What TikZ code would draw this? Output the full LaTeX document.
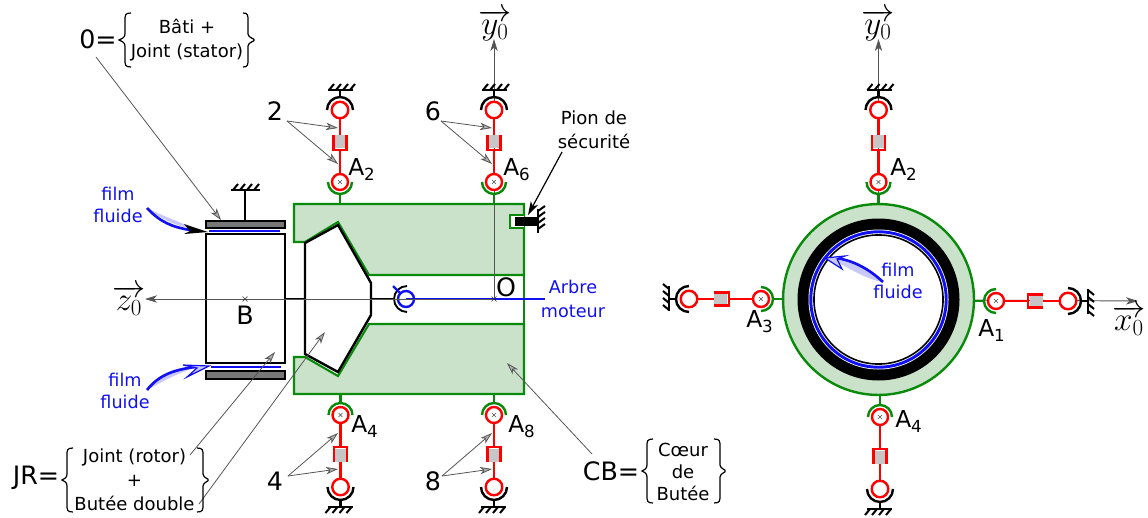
\documentclass[tikz,border=0pt]{standalone}
\usepackage{fontspec}
\setmainfont{DejaVu Sans}
\usetikzlibrary{arrows.meta,calc}
\definecolor{gfill}{HTML}{C9E2C9}
\definecolor{gline}{HTML}{0A8A0A}
\definecolor{bfilm}{HTML}{1010F0}
\definecolor{lfilm}{HTML}{C8C8FA}
\definecolor{axisc}{HTML}{555555}
\definecolor{plate}{HTML}{777777}
\tikzset{
  x=0.75pt,y=-0.75pt,
  redl/.style={draw=red,line width=1.8pt},
  greenl/.style={draw=gline,line width=1.8pt},
  blackl/.style={draw=black,line width=1.8pt},
  body/.style={draw=gline,fill=gfill,line width=1.6pt,line join=miter},
  rotor/.style={draw=black,fill=white,line width=1.8pt,line join=miter},
  axisl/.style={draw=axisc,line width=0.7pt,-{Stealth[length=9pt,width=5.5pt,inset=2.5pt]}},
  pointer/.style={draw=axisc,line width=0.6pt,-{Stealth[length=9pt,width=5.5pt,inset=2.5pt,fill=gray!60]}},
  big/.style={font=\fontsize{19}{22}\selectfont,inner sep=0pt,text=black},
  alabel/.style={font=\fontsize{17.5}{20}\selectfont,inner sep=0pt,text=black,anchor=base west},
  small/.style={font=\fontsize{13.5}{18}\selectfont,inner sep=0pt,align=center,text=black},
  bluet/.style={font=\fontsize{13.2}{17}\selectfont,inner sep=0pt,align=center,text=bfilm},
  mathl/.style={font=\fontsize{24}{28}\selectfont,inner sep=0pt},
  brace/.style={draw=black,line width=0.9pt},
}
\newcommand{\Asub}[1]{A\raisebox{-3.75pt}{\fontsize{12.5}{13}\selectfont #1}}
% brace: x of point, x of spine, x of ends, top, bottom
\newcommand{\bracepath}[5]{\draw[brace] (#3,#4) .. controls (#2,#4) and (#2,#4+2) .. (#2,#4+8) -- (#2,{(#4+#5)/2-6}) .. controls (#2,{(#4+#5)/2-2}) and (#1+2,{(#4+#5)/2-1}) .. (#1,{(#4+#5)/2}) .. controls (#1+2,{(#4+#5)/2+1}) and (#2,{(#4+#5)/2+2}) .. (#2,{(#4+#5)/2+6}) -- (#2,#5-8) .. controls (#2,#5-2) and (#2,#5) .. (#3,#5);}
% A joint at (#1,#2), turned by #3; the ground side points "up" in local axes
\newcommand{\linkage}[3]{%
\begin{scope}[shift={(#1,#2)},rotate=#3]
  \draw[greenl] (-12,0) arc[start angle=180,end angle=360,radius=9pt];
  \draw[greenl] (0,12) -- (0,22);
  \draw[redl] (0,-8) -- (0,-32);
  \draw[redl] (0,-64) -- (0,-46);
  \fill[gray!45] (-5.5,-47) rectangle (5.5,-34);
  \draw[redl,line join=miter] (-6.5,-47) -- (-6.5,-32) -- (6.5,-32) -- (6.5,-47);
  \fill[white] (0,0) circle[radius=6pt];
  \draw[redl] (0,0) circle[radius=6pt];
  \draw[black!70,line width=0.4pt] (-2,-2) -- (2,2) (-2,2) -- (2,-2);
  \draw[redl,fill=white] (0,-72) circle[radius=6.2pt];
  \draw[blackl] (-13,-72) arc[start angle=180,end angle=0,radius=9.75pt];
  \draw[blackl] (0,-85) -- (0,-92);
  \draw[blackl] (-12,-92) -- (13,-92);
  \foreach \t in {-11,-4,3,10} \draw[draw=black,line width=1.5pt] (\t,-92) -- ++(5,-6);
\end{scope}}
\newcommand{\crossmark}[2]{\draw[black!80,line width=0.5pt] (#1-2.5,#2-2.5) -- (#1+2.5,#2+2.5) (#1-2.5,#2+2.5) -- (#1+2.5,#2-2.5);}
\begin{document}
\begin{tikzpicture}
\useasboundingbox (0,0) rectangle (1148,517);
% ---------- coordinates for free ends
\coordinate (zero0) at (96,57);   \coordinate (zero1) at (221,220);
\coordinate (two0) at (287,121);  \coordinate (two1) at (338,128);  \coordinate (two2) at (338,164);
\coordinate (six0) at (441,121);  \coordinate (six1) at (492,128);  \coordinate (six2) at (492,164);
\coordinate (four0) at (288,476); \coordinate (four1) at (338,433); \coordinate (four2) at (338,469);
\coordinate (eight0) at (442,476);\coordinate (eight1) at (492,433);\coordinate (eight2) at (492,469);
\coordinate (jr0) at (190,455);   \coordinate (jr1) at (275,352);
\coordinate (jr2) at (199,504);   \coordinate (jr3) at (325,332);
\coordinate (cb0) at (592,454);   \coordinate (cb1) at (507,363);
\coordinate (pion0) at (562,152); \coordinate (pion1) at (528,215);
\coordinate (O) at (494,299);     \coordinate (ytip) at (494,39);
\coordinate (ztip) at (145,299);  \coordinate (blueend) at (545,299);
\coordinate (C) at (878.5,299.5); \coordinate (ytipR) at (878.5,39);
\coordinate (xtipR) at (1138,301);
% ---------- left view: bodies
\draw[body] (294,204) -- (524,204) -- (524,275) -- (369,275) -- (338,222) -- (305,242) -- (294,242) -- cycle;
\draw[body] (524,324) -- (369,324) -- (338,376) -- (305,357) -- (294,357) -- (294,394) -- (524,394) -- cycle;
\draw[greenl] (524,275) -- (524,324);
\draw[greenl,fill=white] (524,215) -- (510,215) -- (510,228) -- (524,228);
\draw[rotor] (305,243) -- (338,225) -- (371,283) -- (371,315) -- (338,372) -- (305,354) -- cycle;
\draw[rotor] (206,234) rectangle (285,363);
\draw[draw=black,fill=plate,line width=1.5pt] (206,221) rectangle (285,228);
\draw[draw=black,fill=plate,line width=1.5pt] (206,371) rectangle (285,379);
\draw[bfilm,line width=2pt] (209,231) -- (280,231);
\draw[bfilm,line width=2pt] (211,367) -- (281,367);
\draw[blackl] (245,221) -- (245,190);
\draw[blackl] (231,190) -- (260,190);
\foreach \t in {233,240,247,254} \draw[draw=black,line width=1.5pt] (\t,190) -- ++(5,-6);
% shaft
\draw[blackl] (285,299) -- (305,299);
\draw[blackl] (371,299) -- (395,299);
\draw[bfilm,line width=1.8pt] (406,299) -- (blueend);
\draw[draw=black,line width=1.4pt] (407,286) arc[start angle=90,end angle=270,radius=9.75pt];
\draw[bfilm,line width=1.6pt] (393,286) -- (400,293);
\draw[bfilm,line width=1.8pt] (406,299) circle[radius=6pt];
% axes of left view
\draw[axisl] (O) -- (ytip);
\draw[axisl] (O) -- (ztip);
\crossmark{245}{299}
\crossmark{494}{299}
% pin
\fill[black] (515,217) rectangle (538,226);
\draw[blackl] (538,209) -- (538,233);
\foreach \t in {211,217,223,229} \draw[draw=black,line width=1.5pt] (538,\t) -- ++(7,-5);
% links
\linkage{340}{182}{0}
\linkage{494}{182}{0}
\linkage{340.5}{415}{180}
\linkage{494}{415}{180}
% ---------- right view
\draw[axisl] (C) -- (ytipR);
\draw[axisl] (C) -- (xtipR);
\draw[greenl,fill=gfill] (C) circle[radius=71.6pt];
\fill[black] (C) circle[radius=60.75pt];
\fill[white] (C) circle[radius=52.5pt];
\draw[bfilm,line width=2.2pt] (C) circle[radius=50.8pt];
\draw[draw=black,line width=1.2pt] (C) circle[radius=48.4pt];
\linkage{878.5}{182}{0}
\linkage{880}{417}{180}
\linkage{761}{299}{90}
\linkage{996}{301}{-90}
% ---------- film arrows
\fill[lfilm] (147,208) .. controls (165,222) and (178,226) .. (200,231) .. controls (180,222) and (165,217) .. cycle;
\draw[bfilm,line width=2pt] (147,208) .. controls (160,222) and (172,227) .. (190,230);
\fill[black] (208,232) -- (184,224) -- (190,231) -- (184,234) -- cycle;
\fill[lfilm] (147,390) .. controls (160,372) and (180,367) .. (200,366) .. controls (180,372) and (165,380) .. cycle;
\draw[bfilm,line width=2pt] (147,390) .. controls (158,376) and (172,370) .. (195,367);
\draw[bfilm,fill=lfilm,line width=0.9pt,line join=miter] (183,365) -- (209,366) -- (187,377) -- (197,368) -- cycle;
\fill[lfilm] (883,282) .. controls (870,268) and (850,262) .. (832,259) .. controls (848,268) and (868,280) .. cycle;
\draw[bfilm,line width=2pt] (883,282) .. controls (868,268) and (852,260) .. (835,258);
\draw[bfilm,fill=lfilm,line width=0.9pt,line join=miter] (845,256) -- (825,258) -- (842,269) -- (837,259) -- cycle;
% ---------- pointers
\draw[pointer] (zero0) -- (zero1);
\draw[pointer] (two0) -- (two1);
\draw[pointer] (two0) -- (two2);
\draw[pointer] (six0) -- (six1);
\draw[pointer] (six0) -- (six2);
\draw[pointer] (four0) -- (four1);
\draw[pointer] (four0) -- (four2);
\draw[pointer] (eight0) -- (eight1);
\draw[pointer] (eight0) -- (eight2);
\draw[pointer] (jr0) -- (jr1);
\draw[pointer] (jr2) -- (jr3);
\draw[pointer] (cb0) -- (cb1);
\draw[draw=black,line width=0.9pt,-{Stealth[length=10pt,width=6pt,inset=2.5pt]}] (pion0) -- (pion1);
% ---------- braces
\bracepath{119}{125}{131}{13}{67}
\bracepath{254}{248}{243}{13}{67}
\bracepath{62}{67}{73}{448}{512}
\bracepath{208}{203}{197}{448}{512}
\bracepath{642}{647}{653}{439}{503}
\bracepath{725}{720}{714}{439}{503}
% ---------- labels
\node[big] (lzero) at (98,39) {0=};
\node[small] (lbati) at (187,40.5) {Bâti +\\Joint (stator)};
\node[big] (ltwo) at (275,111) {2};
\node[big] (lsix) at (433,111) {6};
\node[big] (lfour) at (275,481) {4};
\node[big] (leight) at (433,481) {8};
\node[alabel] (lA2) at (348,175) {\Asub{2}};
\node[alabel] (lA6) at (503,175) {\Asub{6}};
\node[alabel] (lA4) at (351,432) {\Asub{4}};
\node[alabel] (lA8) at (508,432) {\Asub{8}};
\node[alabel] (lA2r) at (890,175) {\Asub{2}};
\node[alabel] (lA4r) at (895,427) {\Asub{4}};
\node[alabel] (lA3) at (746,327) {\Asub{3}};
\node[alabel] (lA1) at (978,336) {\Asub{1}};
\node[big] (lO) at (506,287) {O};
\node[big] (lB) at (245,315) {B};
\node[small] (lpion) at (594,130) {Pion de\\sécurité};
\node[bluet] (lf1) at (118,205) {film\\fluide};
\node[bluet] (lf2) at (125,391) {film\\fluide};
\node[bluet] (lf3) at (898,281) {film\\fluide};
\node[bluet,font=\fontsize{13.2}{18}\selectfont] (larbre) at (573,299) {Arbre\\moteur};
\node[big] (ljr) at (36,478) {JR=};
\node[small] (ljrb) at (134.5,480) {Joint (rotor)\\+\\Butée double};
\node[big] (lcb) at (611,471) {CB=};
\node[small,font=\fontsize{13.5}{16.5}\selectfont] (lcbb) at (683,472) {Cœur\\de\\Butée};
\node[mathl] (ly) at (495,25) {$\overrightarrow{y_0}$};
\node[mathl] (lyr) at (878,25) {$\overrightarrow{y_0}$};
\node[mathl] (lz) at (129,300) {$\overrightarrow{z_0}$};
\node[mathl] (lx) at (1129,320) {$\overrightarrow{x_0}$};
\end{tikzpicture}
\end{document}
